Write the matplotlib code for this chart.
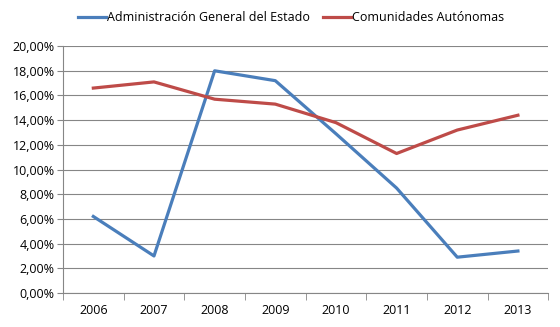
import matplotlib.pyplot as plt
import numpy as np
from matplotlib.ticker import FuncFormatter

years = ['2006', '2007', '2008', '2009', '2010', '2011', '2012', '2013']
age = [6.2, 3.0, 18.0, 17.2, 12.9, 8.5, 2.9, 3.4]
ccaa = [16.6, 17.1, 15.7, 15.3, 13.8, 11.3, 13.2, 14.4]
labels = ['Administración General del Estado', 'Comunidades Autónomas']

plt.rcParams['font.family'] = ['Open Sans', 'DejaVu Sans']
plt.rcParams['font.size'] = 9

fig = plt.figure(figsize=(5.6, 3.27), dpi=100)
ax = fig.add_axes([0.1125, 0.104, 0.8665, 0.755])

x = np.arange(len(years))
ax.plot(x, age, color='#4A7EBB', linewidth=2.3, label=labels[0])
ax.plot(x, ccaa, color='#BE4B48', linewidth=2.3, label=labels[1])

ax.set_xlim(-0.5, len(years) - 0.5)
ax.set_ylim(0, 20)
ax.set_yticks(np.arange(0, 21, 2))
ax.yaxis.set_major_formatter(FuncFormatter(lambda v, p: ('%.2f%%' % v).replace('.', ',')))
ax.set_xticks(x)
ax.set_xticklabels(years)
ax.set_xticks(np.arange(-0.5, len(years)), minor=True)
ax.tick_params(axis='x', which='major', length=0, pad=8)
ax.tick_params(axis='x', which='minor', length=5, color='#868686')
ax.tick_params(axis='y', length=4, color='#868686', pad=2)
ax.grid(axis='y', color='#868686', linewidth=0.8)
ax.set_axisbelow(True)
for s in ['top', 'right']:
	ax.spines[s].set_visible(False)
for s in ['left', 'bottom']:
	ax.spines[s].set_color('#868686')

fig.legend(loc='upper center', bbox_to_anchor=(0.52, 1.0), ncol=2, frameon=False,
	handlelength=2.2, handletextpad=0.1, columnspacing=1.1, fontsize=9)

fig.savefig('out.png', dpi=100)
